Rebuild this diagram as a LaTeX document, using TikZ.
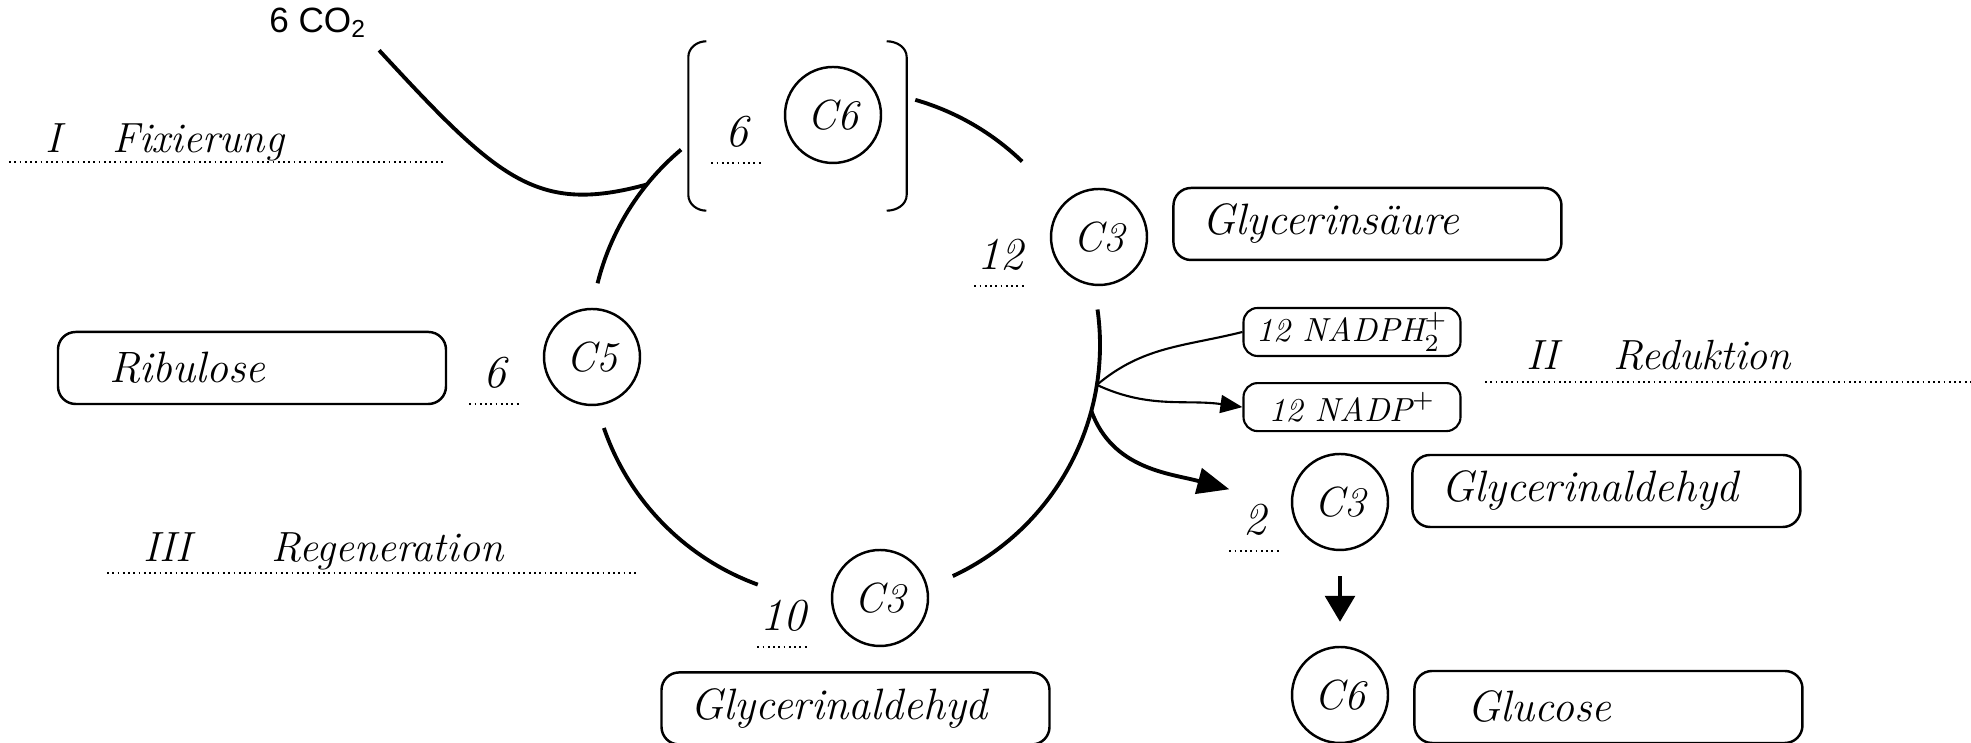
\documentclass[tikz,border=0pt]{standalone}
\usepackage{fontspec}
\newfontfamily\sanslabel{Liberation Sans}
\usetikzlibrary{arrows.meta,positioning}
\begin{document}
\begin{tikzpicture}[
	mol/.style={draw,circle,line width=.7pt,minimum size=.96cm,inner sep=0pt,font=\fontsize{12}{14}\selectfont\itshape},
	namebox/.style={draw,rounded corners=5pt,line width=.7pt,minimum height=.72cm,text width=3.3cm,inner xsep=.29cm,inner ysep=2pt,align=left,font=\fontsize{12.5}{14}\selectfont\itshape},
	nad/.style={draw,rounded corners=4pt,line width=.6pt,minimum width=2.17cm,minimum height=.48cm,inner xsep=2pt,inner ysep=1pt,font=\fontsize{9.5}{11}\selectfont\itshape},
	num/.style={minimum width=.5cm,minimum height=.6cm,inner sep=0pt,font=\fontsize{13}{15}\selectfont\itshape},
	phase/.style={anchor=base west,inner sep=0pt,font=\fontsize{12}{14}\selectfont\itshape},
	sep/.style={densely dotted,line width=.5pt},
	cyc/.style={line width=1.1pt}]
	\useasboundingbox (0,0) rectangle (19.71,7.43);
	\def\R{2.55}
	\coordinate (O) at (8.45,3.98);
	\path (O)++(141:\R) coordinate (fix)
	(O)++(-9:\R) coordinate (br)
	(O)++(-15:\R) coordinate (red);
	\node[mol] (c6) at (8.33,6.28) {C6};
	\node[mol] (c3a) at (10.99,5.06) {C3};
	\node[mol] (c5) at (5.92,3.86) {C5};
	\node[mol] (c3b) at (8.80,1.45) {C3};
	\node[mol] (c3c) at (13.40,2.41) {C3};
	\node[mol] (c6b) at (13.40,0.48) {C6};
	\node[namebox,right=.24cm of c3a,yshift=.13cm] (gs) {Glycerinsäure};
	\node[namebox,right=.22cm of c3c,yshift=.11cm] (gal) {Glycerinaldehyd};
	\node[namebox,right=.24cm of c6b,yshift=-.12cm] (glc) {\hspace*{.24cm}Glucose};
	\node[namebox,below=.24cm of c3b,xshift=-.245cm] (galb) {Glycerinaldehyd};
	\node[namebox] (rib) at (2.52,3.75) {\hspace*{.22cm}Ribulose};
	\node[nad] (nadph) at (13.52,4.11) {12 NADPH$_2^+$};
	\node[nad,below=.25cm of nadph] (nadp) {12 NADP$^+$};
	\node[num] (n6a) at (7.37,6.11) {6};
	\node[num] (n12) at (10.00,4.88) {12};
	\node[num] (n2) at (12.55,2.23) {2};
	\node[num] (n10) at (7.83,1.27) {10};
	\node[num] (n6b) at (4.95,3.70) {6};
	\foreach \n in {n6a,n12,n2,n10,n6b} \draw[sep] (\n.south west) -- (\n.south east);
	\node[minimum width=2.17cm,minimum height=1.68cm,inner sep=0pt] (grp) at (7.975,6.17) {};
	\draw[line width=.6pt] ([xshift=.18cm]grp.north west) to[out=180,in=90] ([yshift=-.16cm]grp.north west) -- ([yshift=.16cm]grp.south west) to[out=-90,in=180] ([xshift=.18cm]grp.south west)
	([xshift=-.2cm]grp.north east) to[out=0,in=90] ([yshift=-.16cm]grp.north east) -- ([yshift=.16cm]grp.south east) to[out=-90,in=0] ([xshift=-.2cm]grp.south east);
	\foreach \a/\b in {130/166,199/250,295/368,46/74} \draw[cyc] ([shift={(\a:\R)}]O) arc[start angle=\a,end angle=\b,radius=\R];
	\node[font=\sanslabel\fontsize{10}{12}\selectfont] (co2) at (3.18,7.20) {6 CO\textsubscript{2}};
	\draw[cyc] (co2.south east) .. controls +(1.2,-1.3) and +(-1.1,-.3) .. (fix);
	\draw[line width=.6pt,-{Triangle[length=.22cm,width=.18cm]}] (nadph.west) to[out=194,in=40] (br) to[out=-25,in=172] (nadp.west);
	\draw[cyc,-{Triangle[length=.32cm,width=.26cm]}] (red) to[out=-70,in=165] (n2.north west);
	\draw[line width=.9pt,-{Triangle[length=.26cm,width=.3cm]},shorten <=.25cm,shorten >=.24cm] (c3c.south) -- (c6b.north);
	\node[phase] (ph1) at (0.45,5.90) {I\hspace{1.2em}Fixierung};
	\node[phase] (ph2) at (15.26,3.73) {II\hspace{1.3em}Reduktion};
	\node[phase] (ph3) at (1.43,1.81) {III\hspace{1.9em}Regeneration};
	\draw[sep] (0.09,5.81) -- (4.44,5.81) (14.85,3.61) -- (19.71,3.61) (1.07,1.70) -- (6.38,1.70);
\end{tikzpicture}
\end{document}
